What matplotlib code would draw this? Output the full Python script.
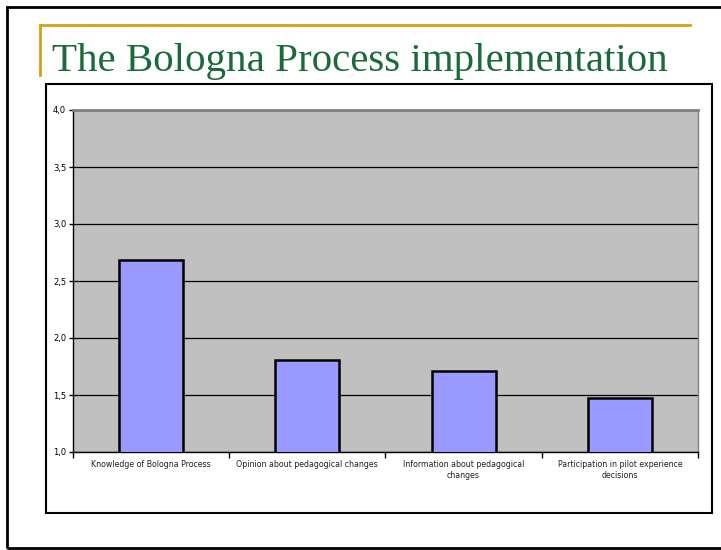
import numpy as np
import matplotlib.pyplot as plt
from matplotlib.patches import Rectangle
from matplotlib.lines import Line2D

categories = ['Knowledge of Bologna Process', 'Opinion about pedagogical changes',
              'Information about pedagogical\nchanges', 'Participation in pilot experience\ndecisions']
values = [2.68, 1.81, 1.71, 1.47]
yticks = [1.0, 1.5, 2.0, 2.5, 3.0, 3.5, 4.0]

fig = plt.figure(figsize=(7.21, 5.5), dpi=100)

# slide frame
fig.add_artist(Rectangle((7/721, 2/550), 1.0, 541/550, transform=fig.transFigure,
                         fill=False, edgecolor='black', linewidth=2))
# gold accent lines
fig.add_artist(Line2D([40/721, 690/721], [1-25/550, 1-25/550], transform=fig.transFigure,
                      color='#D4A017', linewidth=2))
fig.add_artist(Line2D([40/721, 40/721], [1-25/550, 1-75/550], transform=fig.transFigure,
                      color='#D4A017', linewidth=2))
fig.text(52/721, 1-61/550, 'The Bologna Process implementation', family='Liberation Serif',
         fontsize=29.5, color='#1B6B3A', va='center', ha='left')

# chart box
fig.add_artist(Rectangle((46/721, 1-513/550), 666/721, 429/550, transform=fig.transFigure,
                         fill=False, edgecolor='black', linewidth=1.5))

ax = fig.add_axes([73/721, 1-452/550, 625/721, 342/550])
ax.set_facecolor('#C0C0C0')
x = np.arange(len(categories))
ax.set_axisbelow(True)
ax.yaxis.grid(True, color='black', linewidth=0.9)
ax.bar(x, values, width=0.41, bottom=0, color='#9999FF', edgecolor='black', linewidth=1.8, zorder=3)
ax.set_ylim(1.0, 4.0)
ax.set_xlim(-0.5, len(categories) - 0.5)
ax.set_yticks(yticks)
ax.set_yticklabels([f'{v:.1f}'.replace('.', ',') for v in yticks], fontsize=6)
ax.set_xticks(x)
ax.set_xticklabels(categories, fontsize=5.7, color='#222222')
ax.tick_params(axis='x', length=0, pad=6)
ax.tick_params(axis='y', length=3, width=1, pad=2)
ax.set_xticks(np.arange(-0.5, len(categories)), minor=True)
ax.tick_params(axis='x', which='minor', length=4, width=1)
ax.spines['top'].set_color('#808080')
ax.spines['top'].set_linewidth(2)
ax.spines['right'].set_color('#808080')
ax.spines['right'].set_linewidth(1)
ax.spines['left'].set_linewidth(1)
ax.spines['bottom'].set_linewidth(1)

fig.savefig('out.png', dpi=100)
